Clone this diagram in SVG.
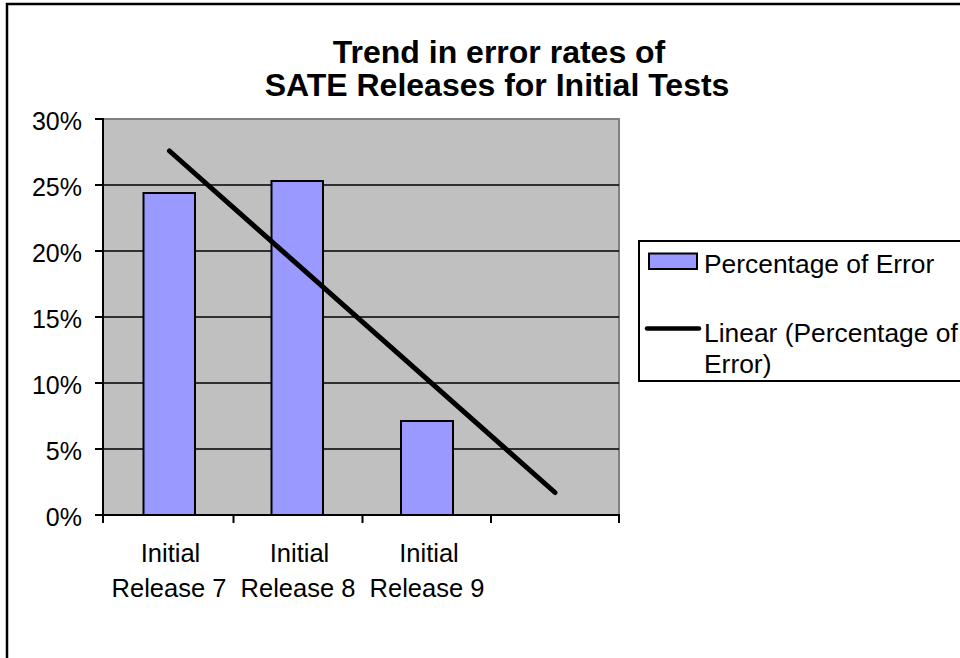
<svg xmlns="http://www.w3.org/2000/svg" width="960" height="658" viewBox="0 0 960 658">
<style>
text{font-family:"Liberation Sans",Arial,sans-serif;fill:#000}
.title{font-size:32px;font-weight:bold;text-anchor:middle}
.ylab{font-size:25px;text-anchor:end}
.xlab{font-size:25.5px;text-anchor:middle}
.leg{font-size:26.4px}
.grid{stroke:#000;stroke-width:1.6}
.bar{fill:#9999FF;stroke:#000;stroke-width:2}
.axis{stroke:#000;stroke-width:2;fill:none}
</style>
<rect x="0" y="0" width="960" height="658" fill="#fff"/>
<rect id="frame" x="7" y="4" width="970" height="680" fill="none" stroke="#000" stroke-width="2.5"/>
<g id="title">
<text class="title" x="499" y="63">Trend in error rates of</text>
<text class="title" x="497" y="96">SATE Releases for Initial Tests</text>
</g>
<g id="plot">
<rect x="103" y="119" width="516" height="396" fill="#C0C0C0"/>
<polyline points="103,119 619,119 619,515" fill="none" stroke="#808080" stroke-width="2"/>
<line class="grid" x1="103" y1="185" x2="619" y2="185"/>
<line class="grid" x1="103" y1="251" x2="619" y2="251"/>
<line class="grid" x1="103" y1="317" x2="619" y2="317"/>
<line class="grid" x1="103" y1="383" x2="619" y2="383"/>
<line class="grid" x1="103" y1="449" x2="619" y2="449"/>
</g>
<g id="bars">
<rect class="bar" x="143.5" y="193" width="51.5" height="322"/>
<rect class="bar" x="271.5" y="181" width="51.5" height="334"/>
<rect class="bar" x="401" y="421" width="52" height="94"/>
</g>
<g id="axes">
<line class="axis" x1="103" y1="118" x2="103" y2="523"/>
<line class="axis" x1="102" y1="515" x2="620" y2="515"/>
<path class="axis" d="M95 119H103M95 185H103M95 251H103M95 317H103M95 383H103M95 449H103M95 515H103"/>
<path class="axis" d="M233.5 515V523M362.5 515V523M491 515V523M619 515V523"/>
</g>
<g id="connectors">
<line id="trend" x1="169.5" y1="151" x2="555" y2="492.5" stroke="#000" stroke-width="5" stroke-linecap="round"/>
</g>
<g id="ylabels">
<text class="ylab" x="82" y="130">30%</text>
<text class="ylab" x="82" y="196">25%</text>
<text class="ylab" x="82" y="262">20%</text>
<text class="ylab" x="82" y="328">15%</text>
<text class="ylab" x="82" y="394">10%</text>
<text class="ylab" x="82" y="460">5%</text>
<text class="ylab" x="82" y="526">0%</text>
</g>
<g id="xlabels">
<text class="xlab" x="170.5" y="562">Initial</text>
<text class="xlab" x="169" y="596.5">Release 7</text>
<text class="xlab" x="299.5" y="562">Initial</text>
<text class="xlab" x="298" y="596.5">Release 8</text>
<text class="xlab" x="429" y="562">Initial</text>
<text class="xlab" x="427" y="596.5">Release 9</text>
</g>
<g id="legend">
<rect x="639" y="241" width="340" height="140" fill="#fff" stroke="#000" stroke-width="2"/>
<rect x="649" y="253.5" width="48" height="15.5" fill="#9999FF" stroke="#000" stroke-width="2"/>
<text class="leg" x="704" y="273">Percentage of Error</text>
<line x1="647" y1="328.5" x2="699" y2="328.5" stroke="#000" stroke-width="4.5" stroke-linecap="round"/>
<text class="leg" x="704" y="342">Linear (Percentage of</text>
<text class="leg" x="704" y="373">Error)</text>
</g>
</svg>
